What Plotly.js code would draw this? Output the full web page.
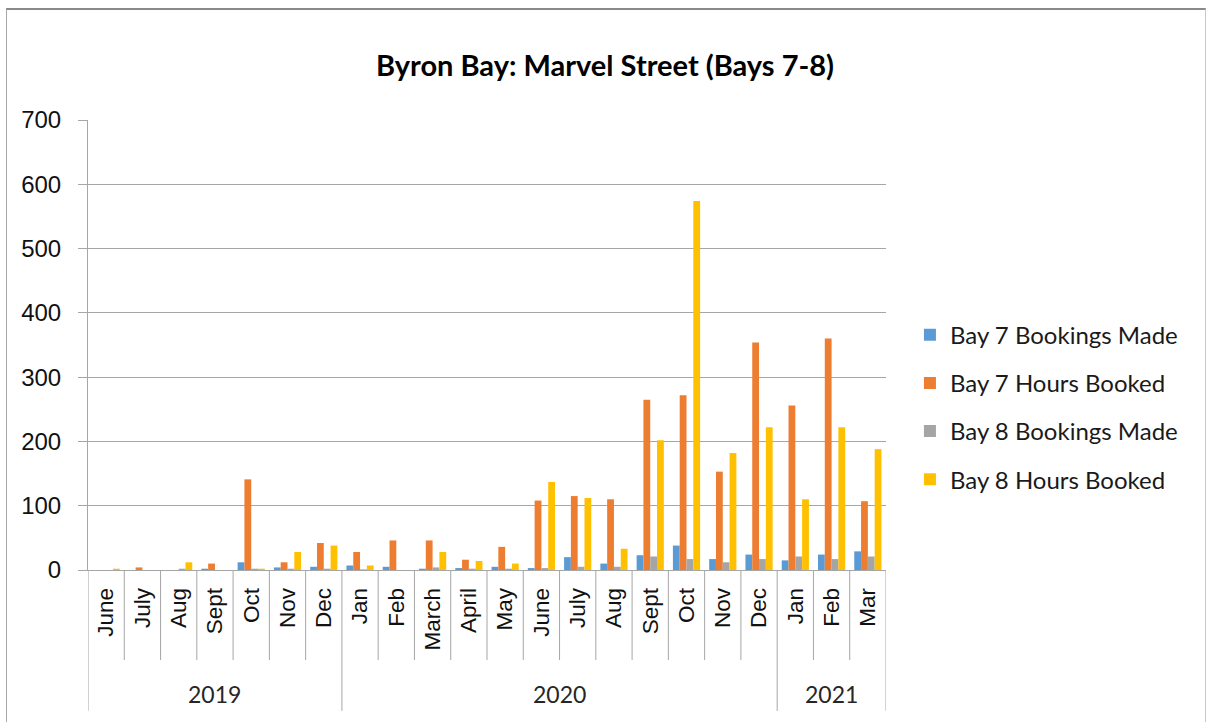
<!DOCTYPE html>
<html>
<head>
<meta charset="utf-8">
<script src="https://cdn.plot.ly/plotly-3.0.1.min.js"></script>
<style>
  html, body { margin: 0; padding: 0; background: #fff; }
  #chart { position: absolute; left: 0; top: 0; width: 1208px; height: 722px; }
  #frame { position: absolute; left: 6px; top: 8px; width: 1200px; height: 740px;
           border-top: 2px solid #8a8a8a; border-left: 1px solid #a8a8a8; border-right: 1px solid #c8c8c8;
           pointer-events: none; box-sizing: border-box; }
</style>
</head>
<body>
<div id="chart"></div>
<div id="frame"></div>
<script>
// ---- data ----
const months = ['June','July','Aug','Sept','Oct','Nov','Dec',
                'Jan','Feb','March','April','May','June','July','Aug','Sept','Oct','Nov','Dec',
                'Jan','Feb','Mar'];
const years = ['2019','2020','2021'];
const monthsPerYear = [7, 12, 3];

const bay7Bookings = [0,0,0,2,12,4,5, 7,5,2,3,5,3,20,10,23,38,17,24, 15,24,29];
const bay7Hours    = [0,4,0,10,141,12,42, 28,46,46,16,36,108,115,110,265,272,153,354, 256,360,107];
const bay8Bookings = [0,0,2,0,2,2,2, 1,0,4,2,2,3,5,5,21,17,12,17, 21,17,21];
const bay8Hours    = [2,0,12,0,2,28,38, 7,0,28,14,10,137,112,33,202,574,182,222, 110,222,188];

const seriesNames = ['Bay 7 Bookings Made','Bay 7 Hours Booked','Bay 8 Bookings Made','Bay 8 Hours Booked'];
const seriesColors = ['#5B9BD5','#ED7D31','#A5A5A5','#FFC000'];
const seriesValues = [bay7Bookings, bay7Hours, bay8Bookings, bay8Hours];

// ---- build ----
const xIdx = months.map((m, i) => i);
const traces = seriesValues.map((vals, k) => ({
  type: 'bar',
  x: xIdx,
  y: vals,
  name: seriesNames[k],
  legendgroup: 'g' + k,
  marker: { color: seriesColors[k], line: { width: 0 } },
  hoverinfo: 'name+y'
}));

const gridCol = '#a6a6a6';
const monthRowBottom = -0.2;
const yearRowBottom = -0.313;
const shapes = [];
let boundaries = new Set();
let acc = 0;
monthsPerYear.forEach(n => { acc += n; boundaries.add(acc - 0.5); });
for (let b = -0.5; b <= months.length - 0.5; b += 1) {
  const isYear = (b === -0.5) || boundaries.has(b);
  shapes.push({
    type: 'line', xref: 'x', yref: 'paper',
    x0: b, x1: b, y0: 0, y1: isYear ? yearRowBottom : monthRowBottom,
    line: { color: gridCol, width: 1 }
  });
}

const annotations = [];
let start = 0;
years.forEach((yr, i) => {
  const n = monthsPerYear[i];
  annotations.push({
    text: yr, xref: 'x', yref: 'paper',
    x: start + (n - 1) / 2, y: -0.276, yanchor: 'middle', xanchor: 'center',
    showarrow: false,
    font: { family: 'Lato, sans-serif', size: 23, color: '#262626' }
  });
  start += n;
});

const layout = {
  width: 1208, height: 722,
  margin: { l: 88, r: 322, t: 120, b: 152 },
  paper_bgcolor: '#ffffff', plot_bgcolor: '#ffffff',
  title: {
    text: '<b>Byron Bay: Marvel Street (Bays 7-8)</b>',
    x: 605 / 1208, xref: 'container', xanchor: 'center',
    y: 1 - 66 / 722, yref: 'container', yanchor: 'middle',
    font: { family: 'Lato, sans-serif', size: 29, color: '#000000' }
  },
  barmode: 'group',
  bargap: 0.25,
  bargroupgap: 0,
  xaxis: {
    range: [-0.5, months.length - 0.5],
    tickmode: 'array', tickvals: xIdx, ticktext: months,
    tickangle: -90, ticks: '',
    ticklabelstandoff: 8,
    showgrid: false, zeroline: false,
    showline: true, linecolor: gridCol, linewidth: 1,
    tickfont: { family: 'Liberation Sans, Arial, sans-serif', size: 22.5, color: '#111111' },
    fixedrange: true
  },
  yaxis: {
    range: [0, 700], dtick: 100, tick0: 0,
    ticks: 'outside', ticklen: 9, tickcolor: gridCol, tickwidth: 1,
    showgrid: true, gridcolor: gridCol, gridwidth: 1,
    zeroline: false,
    showline: true, linecolor: gridCol, linewidth: 1,
    ticklabelstandoff: 12,
    tickfont: { family: 'Liberation Sans, Arial, sans-serif', size: 24, color: '#111111' },
    fixedrange: true
  },
  showlegend: true,
  legend: {
    x: 1.030, xanchor: 'left', y: 0.362, yanchor: 'middle',
    font: { family: 'Lato, sans-serif', size: 24, color: '#1a1a1a' },
    tracegroupgap: 14,
    itemwidth: 30,
    bgcolor: 'rgba(0,0,0,0)'
  },
  shapes: shapes,
  annotations: annotations
};

Plotly.newPlot('chart', traces, layout, { displayModeBar: false, staticPlot: true });
</script>
</body>
</html>
